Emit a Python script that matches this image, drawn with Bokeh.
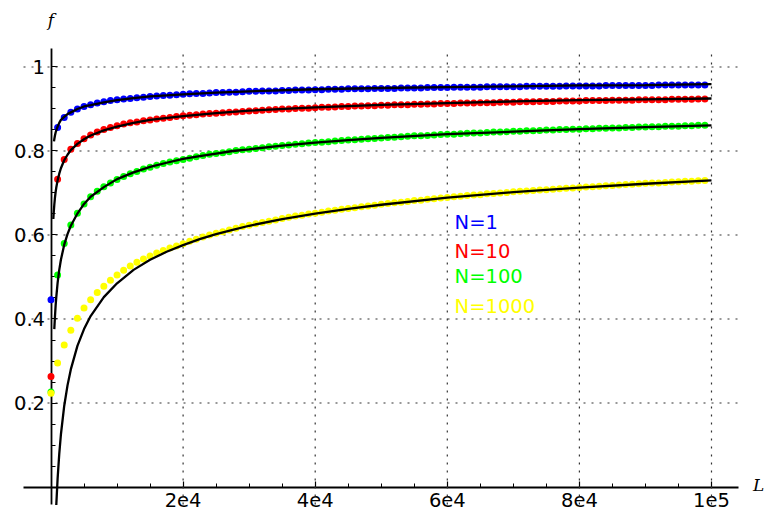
from bokeh.plotting import figure
from bokeh.models import Range1d, FixedTicker, Label
from bokeh.embed import file_html
from bokeh.resources import INLINE

# ---------------- data ----------------
L_DOTS = list(range(0, 100000, 1000))

F_N1 = [0.446,
        0.856, 0.880, 0.892, 0.900, 0.906, 0.910, 0.914, 0.917, 0.920, 0.922,
        0.924, 0.925, 0.927, 0.928, 0.930, 0.931, 0.932, 0.933, 0.934, 0.935,
        0.936, 0.937, 0.937, 0.938, 0.939, 0.939, 0.940, 0.940, 0.941, 0.942,
        0.942, 0.943, 0.943, 0.943, 0.944, 0.944, 0.945, 0.945, 0.945, 0.946,
        0.946, 0.947, 0.947, 0.947, 0.948, 0.948, 0.948, 0.948, 0.949, 0.949,
        0.949, 0.949, 0.950, 0.950, 0.950, 0.950, 0.951, 0.951, 0.951, 0.951,
        0.952, 0.952, 0.952, 0.952, 0.952, 0.953, 0.953, 0.953, 0.953, 0.953,
        0.953, 0.954, 0.954, 0.954, 0.954, 0.954, 0.954, 0.955, 0.955, 0.955,
        0.955, 0.955, 0.955, 0.956, 0.956, 0.956, 0.956, 0.956, 0.956, 0.956,
        0.956, 0.957, 0.957, 0.957, 0.957, 0.957, 0.957, 0.957, 0.957]

F_N10 = [0.263,
         0.733, 0.780, 0.804, 0.818, 0.829, 0.838, 0.845, 0.851, 0.856, 0.860,
         0.864, 0.867, 0.869, 0.872, 0.874, 0.876, 0.878, 0.880, 0.882, 0.884,
         0.885, 0.886, 0.888, 0.889, 0.890, 0.891, 0.892, 0.893, 0.894, 0.895,
         0.896, 0.897, 0.898, 0.899, 0.900, 0.900, 0.901, 0.902, 0.902, 0.903,
         0.904, 0.904, 0.905, 0.906, 0.906, 0.907, 0.907, 0.908, 0.908, 0.909,
         0.909, 0.910, 0.910, 0.910, 0.911, 0.911, 0.912, 0.912, 0.913, 0.913,
         0.913, 0.914, 0.914, 0.914, 0.915, 0.915, 0.915, 0.916, 0.916, 0.916,
         0.917, 0.917, 0.917, 0.918, 0.918, 0.918, 0.919, 0.919, 0.919, 0.919,
         0.920, 0.920, 0.920, 0.920, 0.921, 0.921, 0.921, 0.921, 0.922, 0.922,
         0.922, 0.922, 0.922, 0.923, 0.923, 0.923, 0.923, 0.924, 0.924]

F_N100 = [0.226,
          0.505, 0.580, 0.624, 0.652, 0.674, 0.691, 0.704, 0.715, 0.724, 0.732,
          0.739, 0.746, 0.751, 0.757, 0.761, 0.766, 0.770, 0.774, 0.777, 0.780,
          0.783, 0.786, 0.789, 0.792, 0.794, 0.796, 0.798, 0.801, 0.803, 0.804,
          0.806, 0.808, 0.810, 0.811, 0.813, 0.814, 0.816, 0.817, 0.819, 0.820,
          0.821, 0.822, 0.824, 0.825, 0.826, 0.827, 0.828, 0.829, 0.830, 0.831,
          0.832, 0.833, 0.834, 0.835, 0.836, 0.836, 0.837, 0.838, 0.839, 0.840,
          0.840, 0.841, 0.842, 0.843, 0.843, 0.844, 0.845, 0.845, 0.846, 0.847,
          0.847, 0.848, 0.848, 0.849, 0.850, 0.850, 0.851, 0.851, 0.852, 0.852,
          0.853, 0.853, 0.854, 0.854, 0.855, 0.855, 0.856, 0.856, 0.857, 0.857,
          0.858, 0.858, 0.859, 0.859, 0.859, 0.860, 0.860, 0.861, 0.861]

F_N1000 = [0.223,
           0.295, 0.338, 0.373, 0.402, 0.426, 0.446, 0.463, 0.478, 0.492, 0.505,
           0.516, 0.526, 0.535, 0.543, 0.550, 0.557, 0.563, 0.569, 0.574, 0.579,
           0.585, 0.590, 0.595, 0.600, 0.604, 0.608, 0.612, 0.616, 0.620, 0.623,
           0.627, 0.630, 0.633, 0.636, 0.639, 0.642, 0.645, 0.647, 0.650, 0.652,
           0.654, 0.657, 0.659, 0.661, 0.663, 0.665, 0.667, 0.669, 0.671, 0.673,
           0.675, 0.677, 0.678, 0.680, 0.682, 0.683, 0.685, 0.686, 0.688, 0.689,
           0.691, 0.692, 0.694, 0.695, 0.696, 0.698, 0.699, 0.700, 0.701, 0.703,
           0.704, 0.705, 0.706, 0.707, 0.708, 0.709, 0.710, 0.711, 0.712, 0.713,
           0.714, 0.715, 0.716, 0.717, 0.718, 0.719, 0.720, 0.721, 0.722, 0.723,
           0.724, 0.724, 0.725, 0.726, 0.727, 0.728, 0.728, 0.729, 0.730]

# black (theory) curves
L_CURVE_N1 = [450, 500, 600, 700, 800, 1000, 1250, 1500, 2000, 2500, 3000, 4000,
              5000, 6000, 8000, 10000, 12500, 15000, 20000, 25000, 30000, 40000,
              50000, 60000, 70000, 80000, 90000, 100000]
C_N1 = [0.823, 0.828, 0.837, 0.844, 0.849, 0.858, 0.867, 0.874, 0.881, 0.888, 0.892, 0.900,
        0.906, 0.909, 0.916, 0.921, 0.926, 0.930, 0.935, 0.939, 0.942, 0.947,
        0.950, 0.952, 0.954, 0.956, 0.957, 0.959]

L_CURVE_N10 = [350, 400, 500, 600, 700, 800, 1000, 1250, 1500, 2000, 2500, 3000, 4000,
               5000, 6000, 8000, 10000, 12500, 15000, 20000, 25000, 30000, 40000,
               50000, 60000, 70000, 80000, 90000, 100000]
C_N10 = [0.638, 0.651, 0.672, 0.689, 0.702, 0.713, 0.730, 0.746, 0.759, 0.778, 0.791, 0.802, 0.817,
         0.828, 0.837, 0.849, 0.858, 0.867, 0.874, 0.883, 0.890, 0.896, 0.904,
         0.910, 0.914, 0.918, 0.921, 0.923, 0.925]

L_CURVE_N100 = [500, 600, 700, 800, 1000, 1250, 1500, 2000, 2500, 3000, 4000,
                5000, 6000, 8000, 10000, 12500, 15000, 17500, 20000, 22500, 25000,
                27500, 30000, 35000, 40000, 45000, 50000, 60000, 70000, 80000,
                90000, 100000]
C_N100 = [0.376, 0.406, 0.432, 0.452, 0.486, 0.517, 0.541, 0.577, 0.602, 0.622, 0.651,
          0.674, 0.691, 0.714, 0.733, 0.749, 0.762, 0.772, 0.781, 0.788, 0.794,
          0.800, 0.804, 0.813, 0.820, 0.826, 0.831, 0.840, 0.846, 0.852,
          0.857, 0.861]

L_CURVE_N1000 = [800, 1000, 1250, 1500, 2000, 2500, 3000, 4000,
                 5000, 6000, 8000, 10000, 12500, 15000, 17500, 20000, 22500, 25000,
                 27500, 30000, 35000, 40000, 45000, 50000, 60000, 70000, 80000,
                 90000, 100000]
C_N1000 = [-0.043, 0.020, 0.079, 0.125, 0.193, 0.242, 0.280, 0.336,
           0.376, 0.407, 0.452, 0.485, 0.517, 0.541, 0.560, 0.576, 0.590, 0.602,
           0.612, 0.622, 0.638, 0.651, 0.662, 0.672, 0.689, 0.702, 0.713,
           0.722, 0.730]

SERIES_LABELS = ["N=1", "N=10", "N=100", "N=1000"]
SERIES_COLORS = ["#0000ff", "#ff0000", "#00ff00", "#ffff00"]

X_TICKS = [20000, 40000, 60000, 80000, 100000]
X_TICK_LABELS = ["2e4", "4e4", "6e4", "8e4", "1e5"]
X_MINOR = [5000, 10000, 15000, 25000, 30000, 35000, 45000, 50000, 55000,
           65000, 70000, 75000, 85000, 90000, 95000]
Y_TICKS = [0.2, 0.4, 0.6, 0.8, 1.0]
Y_TICK_LABELS = ["0.2", "0.4", "0.6", "0.8", "1"]
Y_MINOR = [0.05, 0.1, 0.15, 0.25, 0.3, 0.35, 0.45, 0.5, 0.55, 0.65, 0.7, 0.75,
           0.85, 0.9, 0.95]

# extent of the drawn axes (data units)
X_BOUNDS = (-4163, 104090)
Y_BOUNDS = (-0.0417, 1.044)

# ---------------- figure ----------------
FONT = "DejaVu Sans"
p = figure(width=770, height=517, output_backend="svg", toolbar_location=None,
           x_range=Range1d(-7646, 108933), y_range=Range1d(-0.0726, 1.1583),
           min_border_left=0, min_border_right=0, min_border_top=0,
           min_border_bottom=0)
p.outline_line_color = None
p.background_fill_color = "white"
p.border_fill_color = "white"
p.xgrid.visible = False
p.ygrid.visible = False

for ax in (p.xaxis[0], p.yaxis[0]):
    ax.fixed_location = 0
    ax.level = "underlay"
    ax.axis_line_width = 1.8
    ax.axis_line_color = "black"
    ax.major_tick_out = 0
    ax.minor_tick_out = 0
    ax.major_tick_line_color = "black"
    ax.minor_tick_line_color = "black"
    ax.major_tick_line_width = 1.2
    ax.minor_tick_line_width = 1.0
    ax.major_label_text_font = FONT
    ax.major_label_text_font_size = "19.5px"
    ax.major_label_text_color = "black"

p.xaxis.bounds = X_BOUNDS
p.xaxis.ticker = FixedTicker(ticks=X_TICKS, minor_ticks=X_MINOR)
p.xaxis.major_label_overrides = dict(zip(X_TICKS, X_TICK_LABELS))
p.xaxis.major_tick_in = 6
p.xaxis.minor_tick_in = 4
p.xaxis.major_label_standoff = 6

p.yaxis.bounds = Y_BOUNDS
p.yaxis.ticker = FixedTicker(ticks=Y_TICKS, minor_ticks=Y_MINOR)
p.yaxis.major_label_overrides = dict(zip(Y_TICKS, Y_TICK_LABELS))
p.yaxis.major_tick_in = 6
p.yaxis.minor_tick_in = 4
p.yaxis.major_label_standoff = 6

# dotted grid lines limited to the axes' extent
p.segment(x0=X_TICKS, y0=[Y_BOUNDS[0]] * len(X_TICKS),
          x1=X_TICKS, y1=[Y_BOUNDS[1]] * len(X_TICKS),
          line_color="#333333", line_width=1.2, line_dash="2 6")
p.segment(x0=[X_BOUNDS[0]] * len(Y_TICKS), y0=Y_TICKS,
          x1=[X_BOUNDS[1]] * len(Y_TICKS), y1=Y_TICKS,
          line_color="#333333", line_width=1.2, line_dash="2 6")

# dots
for ys, col in zip([F_N1, F_N10, F_N100, F_N1000], SERIES_COLORS):
    p.scatter(L_DOTS, ys, size=7, fill_color=col, line_color=None)

# black theory curves
for xs, ys in zip([L_CURVE_N1, L_CURVE_N10, L_CURVE_N100, L_CURVE_N1000],
                  [C_N1, C_N10, C_N100, C_N1000]):
    p.line(xs, ys, line_color="black", line_width=2.3)

# legend-like colored texts
LEG_X = 61100
LEG_Y = [0.629, 0.560, 0.500, 0.430]
for txt, col, yy in zip(SERIES_LABELS, SERIES_COLORS, LEG_Y):
    p.add_layout(Label(x=LEG_X, y=yy, text=txt, text_color=col, text_font=FONT,
                       text_font_size="19.5px", text_baseline="middle",
                       text_align="left"))

# axis names
p.add_layout(Label(x=0, y=1.111, text="f", text_font="DejaVu Serif",
                   text_font_style="italic", text_font_size="17px",
                   text_baseline="middle", text_align="center", text_color="black"))
p.add_layout(Label(x=106300, y=0.004, text="L", text_font="DejaVu Serif",
                   text_font_style="italic", text_font_size="17px",
                   text_baseline="alphabetic", text_align="left", text_color="black"))

open("out.html", "w").write(file_html(p, INLINE))
